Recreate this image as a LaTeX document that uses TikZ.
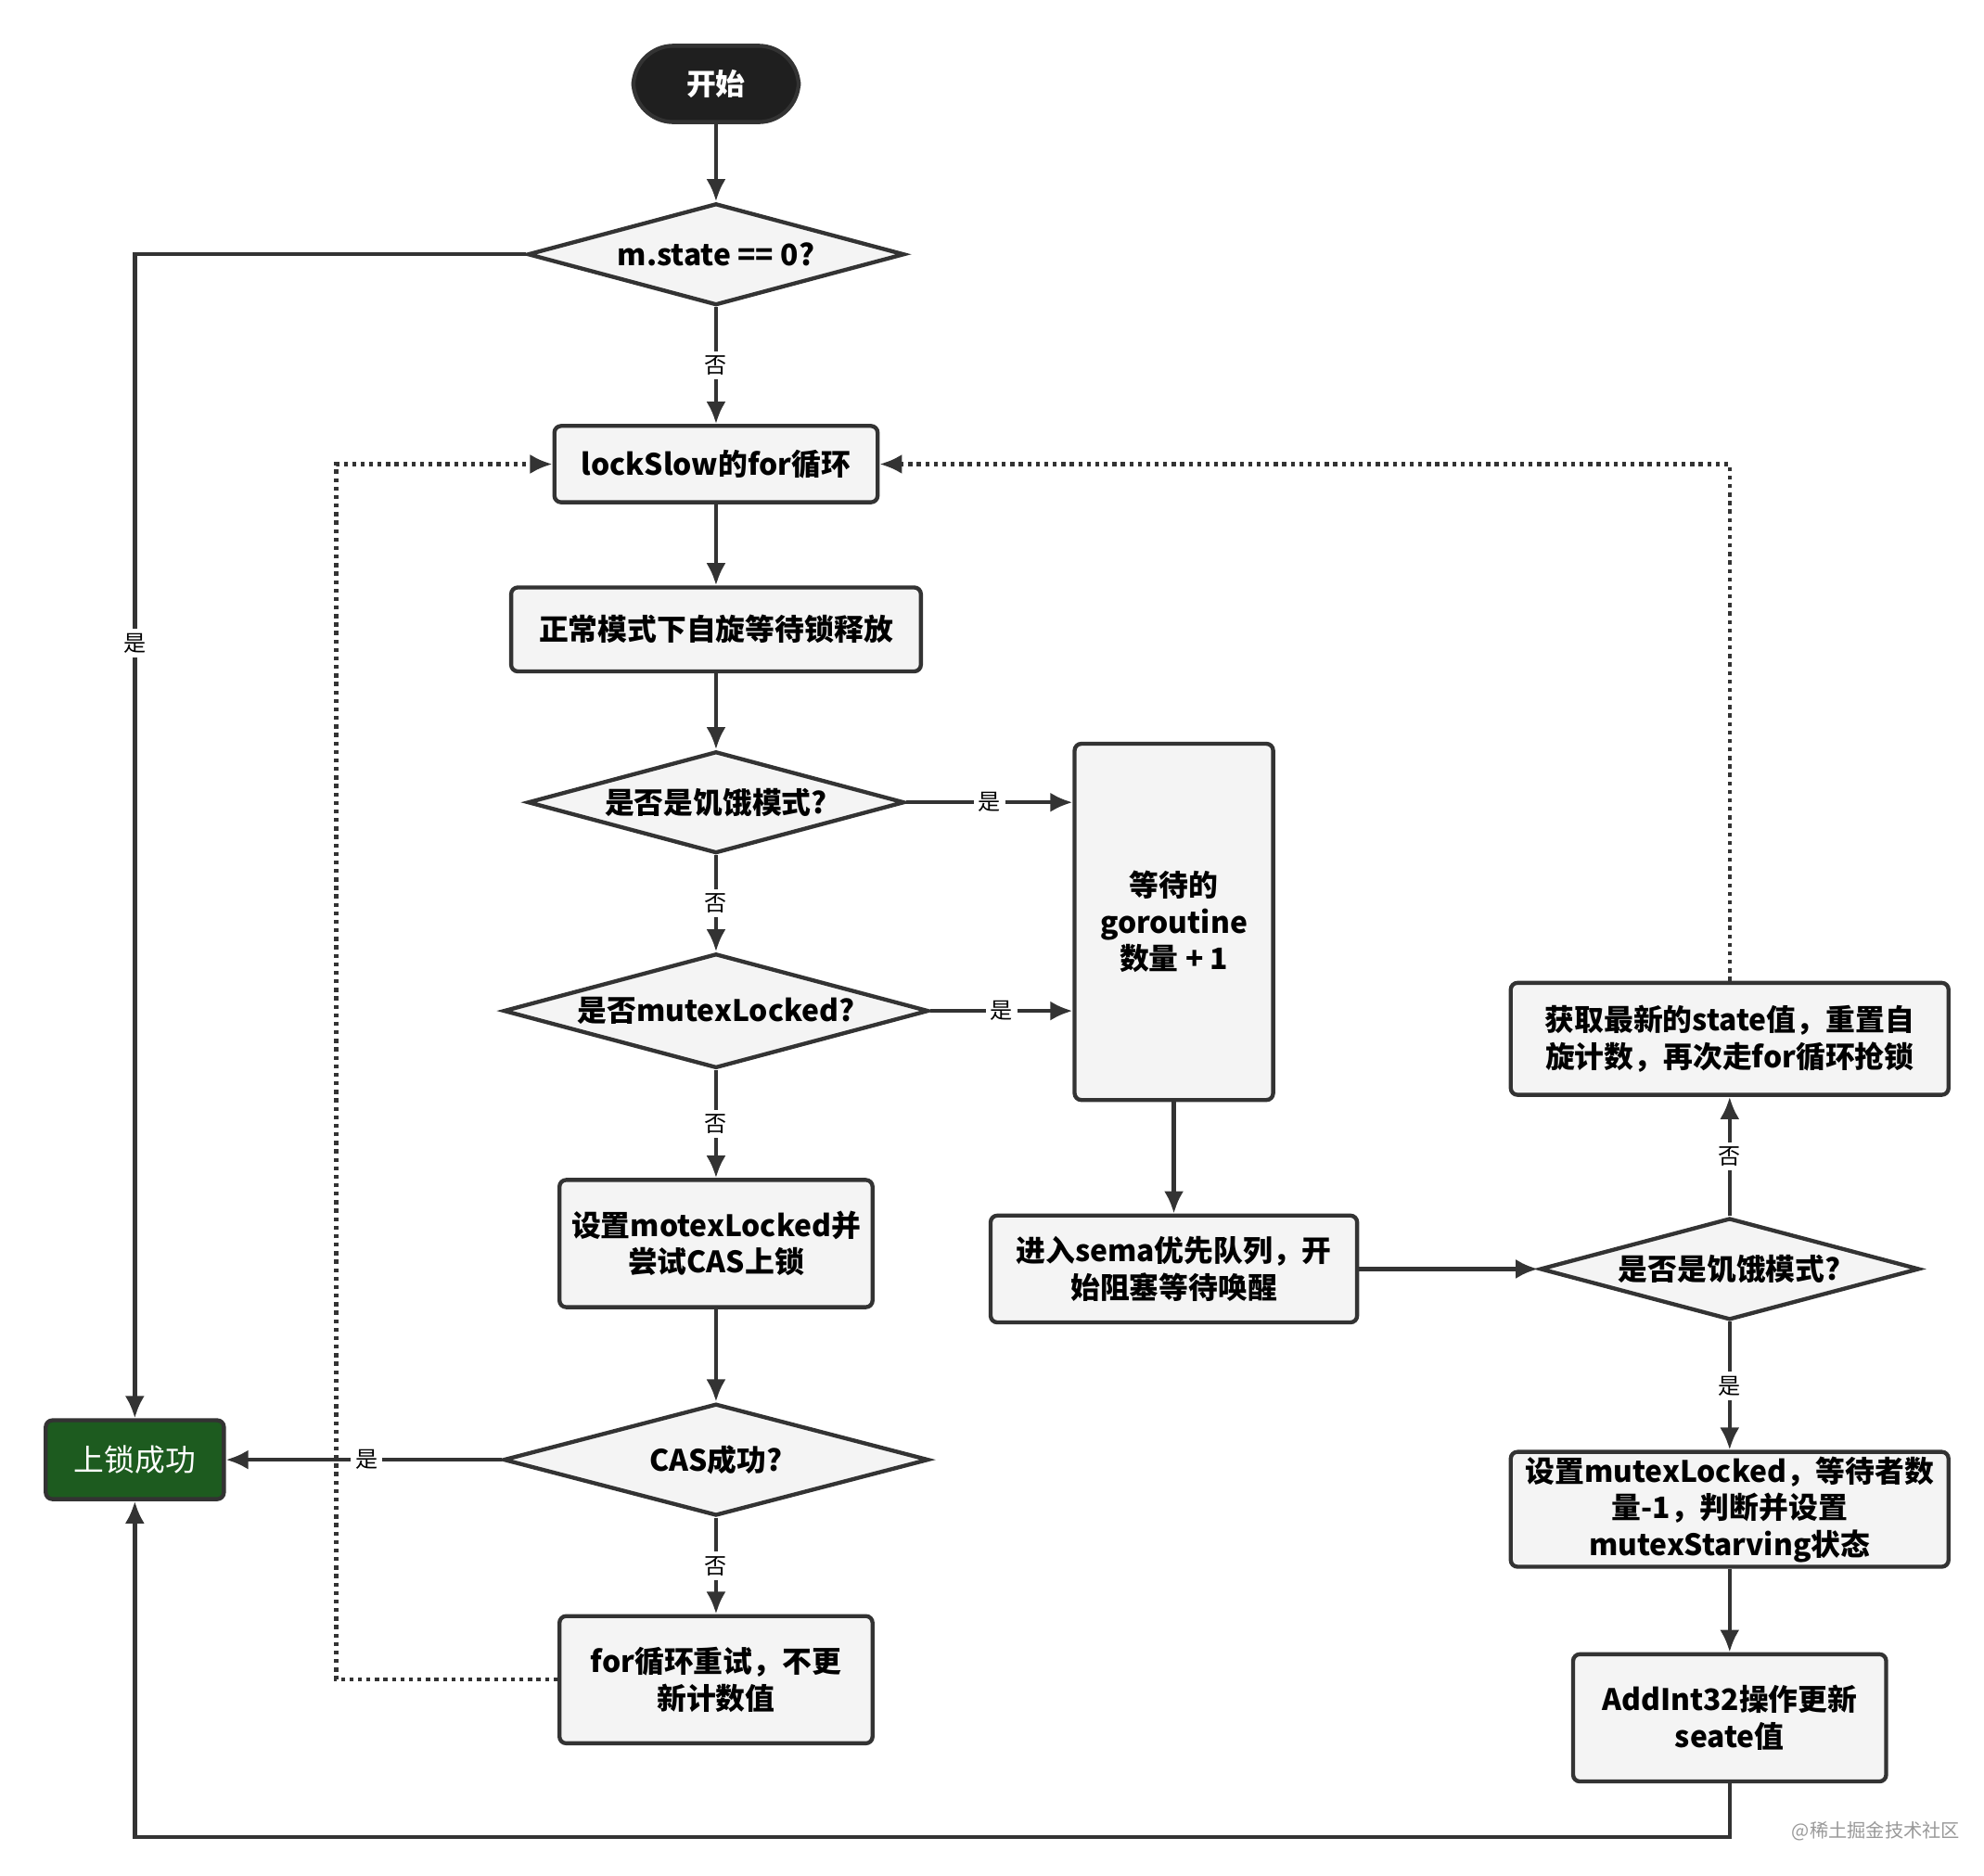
\documentclass[tikz,border=0pt]{standalone}
\usepackage{fontspec}
\setmainfont{Noto Sans CJK SC}
\usetikzlibrary{shapes.geometric,arrows.meta}
\definecolor{boxfill}{HTML}{F4F4F4}
\definecolor{edgecol}{HTML}{333333}
\definecolor{okgreen}{HTML}{1D5B1F}
\tikzset{
  box/.style={draw=edgecol, fill=boxfill, line width=0.9pt, rounded corners=1.5pt, align=center, font=\fontsize{6.6}{8.2}\selectfont\bfseries, inner sep=1pt},
  dec/.style={draw=edgecol, fill=boxfill, line width=0.9pt, diamond, shape aspect=3.7, inner sep=0pt, align=center, font=\fontsize{6.6}{8.2}\selectfont\bfseries},
  arr/.style={draw=edgecol, line width=0.9pt, -{Latex[length=5pt,width=4.4pt]}},
  dots/.style={arr, densely dotted},
  lab/.style={fill=white, inner sep=1pt, font=\fontsize{5}{6}\selectfont}
}
\begin{document}
\begin{tikzpicture}[x=0.01cm, y=-0.01cm]
  \useasboundingbox (0,0) rectangle (1560,1475);

  % Define nodes
  \node[box, fill=black!88, text=white, rounded corners=9pt, minimum width=1.3cm, minimum height=0.6cm] (start) at (563,66) {开始};
  \node[dec, minimum width=2.96cm, minimum height=0.8cm] (isfree) at (563,200) {m.state == 0?};
  \node[box, minimum width=2.54cm, minimum height=0.6cm] (loop) at (563,365) {lockSlow的for循环};
  \node[box, minimum width=3.22cm, minimum height=0.66cm] (spin) at (563,495) {正常模式下自旋等待锁释放};
  \node[dec, minimum width=2.96cm, minimum height=0.8cm] (starve) at (563,631) {是否是饥饿模式?};
  \node[dec, minimum width=3.34cm, minimum height=0.9cm] (locked) at (563,795) {是否mutexLocked?};
  \node[box, minimum width=2.46cm, minimum height=1.0cm] (setlock) at (563,978) {设置motexLocked并\\尝试CAS上锁};
  \node[dec, minimum width=3.34cm, minimum height=0.88cm] (cas) at (563,1148) {CAS成功?};
  \node[box, minimum width=2.46cm, minimum height=1.0cm] (retry) at (563,1321) {for循环重试，不更\\新计数值};
  \node[box, fill=okgreen, text=white, font=\fontsize{6.8}{8.2}\selectfont, minimum width=1.4cm, minimum height=0.62cm] (done) at (106,1148) {上锁成功};
  \node[box, minimum width=1.56cm, minimum height=2.8cm] (wait) at (923,725) {等待的\\goroutine\\数量 + 1};
  \node[box, minimum width=2.88cm, minimum height=0.84cm] (sema) at (923,998) {进入sema优先队列，开\\始阻塞等待唤醒};
  \node[dec, minimum width=2.98cm, minimum height=0.8cm] (starve2) at (1360,998) {是否是饥饿模式?};
  \node[box, minimum width=3.44cm, minimum height=0.88cm] (refresh) at (1360,817) {获取最新的state值，重置自\\旋计数，再次走for循环抢锁};
  \node[box, minimum width=3.44cm, minimum height=0.88cm] (setstarve) at (1360,1187) {设置mutexLocked，等待者数\\量-1，判断并设置\\mutexStarving状态};
  \node[box, minimum width=2.46cm, minimum height=1.0cm] (addint) at (1360,1351) {AddInt32操作更新\\seate值};
  \node[text=black!40, font=\fontsize{4.2}{5}\selectfont] (mark) at (1475,1440) {@稀土掘金技术社区};

  % Connect the nodes
  \draw[arr] (start) -- (isfree);
  \draw[arr] (isfree) -- node[lab] {否} (loop);
  \draw[arr] (isfree.west) -| node[lab, pos=0.667] {是} (done.north);
  \draw[arr] (loop) -- (spin);
  \draw[arr] (spin) -- (starve);
  \draw[arr] (starve) -- node[lab] {否} (locked);
  \draw[arr] (locked) -- node[lab] {否} (setlock);
  \draw[arr] (setlock) -- (cas);
  \draw[arr] (cas) -- node[lab] {否} (retry);
  \draw[arr] (cas.west) -- node[lab, pos=0.49] {是} (done.east);
  \draw[arr] (starve.east) -- node[lab] {是} (starve.east -| wait.west);
  \draw[arr] (locked.east) -- node[lab] {是} (locked.east -| wait.west);
  \draw[arr] (wait) -- (sema);
  \draw[arr] (sema) -- (starve2);
  \draw[arr] (starve2) -- node[lab] {是} (setstarve);
  \draw[arr] (starve2) -- node[lab] {否} (refresh);
  \draw[arr] (setstarve) -- (addint);
  \draw[arr] (addint.south) -- ++(0,42) -| (done.south);

  % Back to the loop
  \draw[dots] (retry.west) -- ++(-174,0) |- (loop.west);
  \draw[dots] (refresh.north) |- (loop.east);

\end{tikzpicture}
\end{document}
